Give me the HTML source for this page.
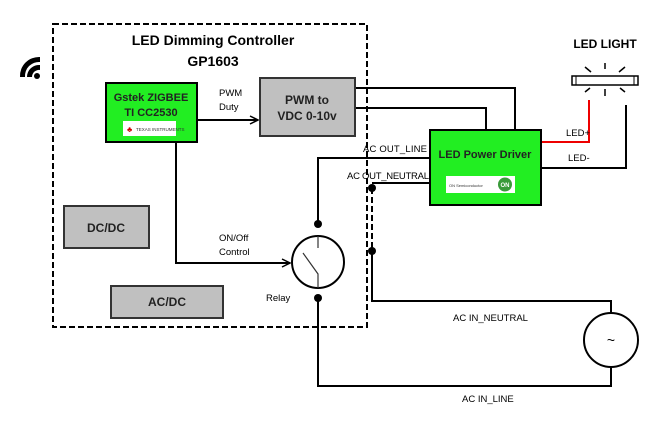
<!DOCTYPE html>
<html><head><meta charset="utf-8"><style>
html,body{margin:0;padding:0;background:#fff}
svg{display:block}
text{font-family:"Liberation Sans",sans-serif}
</style></head><body>
<svg width="659" height="438" viewBox="0 0 659 438" xmlns="http://www.w3.org/2000/svg">
<defs><marker id="a" markerWidth="10" markerHeight="10" refX="9" refY="5" orient="auto" markerUnits="userSpaceOnUse"><path d="M1,1 L9,5 L1,9" fill="none" stroke="#000" stroke-width="1.5"/></marker></defs>
<rect x="53" y="24" width="314" height="303" fill="none" stroke="#000" stroke-width="2" stroke-dasharray="6,3"/>
<text x="213" y="45" font-size="14" font-weight="bold" text-anchor="middle">LED Dimming Controller</text>
<text x="213" y="66" font-size="14" font-weight="bold" text-anchor="middle">GP1603</text>
<g fill="#000"><circle cx="37" cy="76" r="3"/>
<path d="M20,77 A19,19 0 0 1 40,57 L40,62 A14,14 0 0 0 25,77Z"/>
<path d="M27,77 A12,12 0 0 1 40,65 L40,70 A7,7 0 0 0 32,77Z"/></g>
<g fill="none" stroke="#000" stroke-width="2">
<path d="M355,88 H515 V130"/>
<path d="M355,108 H486 V130"/>
<path d="M176,142 V263 H290" marker-end="url(#a)"/>
<path d="M197,120 H258" marker-end="url(#a)"/>
<path d="M430,158 H318 V224"/>
<path d="M430,183 H372"/>
<path d="M372,188 V251" stroke-dasharray="6,3"/>
<path d="M372,251 V301 H611 V313"/>
<path d="M611,367 V386 H318 V298"/>
<path d="M541,168 H626 V105"/>
</g>
<path d="M541,142 H589 V100" fill="none" stroke="#e00" stroke-width="2"/>
<g fill="#000"><circle cx="318" cy="224" r="4"/><circle cx="318" cy="298" r="4"/><circle cx="372" cy="188" r="4"/><circle cx="372" cy="251" r="4"/></g>
<circle cx="318" cy="262" r="26" fill="#fff" stroke="#000" stroke-width="2"/>
<path d="M318,236 V248 M303,253 L318,274 V288" stroke="#333" stroke-width="1.2" fill="none"/>
<text x="266" y="301" font-size="9.5">Relay</text>
<text x="219" y="241" font-size="9.5">ON/Off</text>
<text x="219" y="255" font-size="9.5">Control</text>
<text x="219" y="96" font-size="9.5">PWM</text>
<text x="219" y="110" font-size="9.5">Duty</text>
<circle cx="611" cy="340" r="27" fill="#fff" stroke="#000" stroke-width="2"/>
<text x="611" y="345" font-size="14" text-anchor="middle">~</text>
<text x="453" y="321" font-size="9.5">AC IN_NEUTRAL</text>
<text x="462" y="402" font-size="9.5">AC IN_LINE</text>
<text x="363" y="152" font-size="9.5" textLength="64">AC OUT_LINE</text>
<text x="347" y="179" font-size="9.5" textLength="82">AC OUT_NEUTRAL</text>
<rect x="106" y="83" width="91" height="59" fill="#22ee22" stroke="#000" stroke-width="2"/>
<text x="151" y="101" font-size="11" font-weight="bold" text-anchor="middle" fill="#222">Gstek ZIGBEE</text>
<text x="151" y="116" font-size="11" font-weight="bold" text-anchor="middle" fill="#222">TI  CC2530</text>
<rect x="123" y="121" width="53" height="15" fill="#fff"/>
<text x="127" y="132" font-size="8" fill="#c00">♣</text>
<text x="136" y="131" font-size="4.5" fill="#333">TEXAS INSTRUMENTS</text>
<rect x="260" y="78" width="95" height="58" fill="#c0c0c0" stroke="#333" stroke-width="2"/>
<text x="307" y="104" font-size="12" font-weight="bold" text-anchor="middle" fill="#222">PWM to</text>
<text x="307" y="120" font-size="12" font-weight="bold" text-anchor="middle" fill="#222">VDC 0-10v</text>
<rect x="64" y="206" width="85" height="42" fill="#c0c0c0" stroke="#333" stroke-width="2"/>
<text x="106" y="232" font-size="12" font-weight="bold" text-anchor="middle" fill="#222">DC/DC</text>
<rect x="111" y="286" width="112" height="32" fill="#c0c0c0" stroke="#333" stroke-width="2"/>
<text x="167" y="306" font-size="12" font-weight="bold" text-anchor="middle" fill="#222">AC/DC</text>
<rect x="430" y="130" width="111" height="75" fill="#22ee22" stroke="#000" stroke-width="2"/>
<text x="485" y="158" font-size="11" font-weight="bold" text-anchor="middle" fill="#222">LED Power Driver</text>
<rect x="446" y="176" width="69" height="17" fill="#fff"/>
<text x="449" y="187" font-size="4" fill="#333">ON Semiconductor</text>
<circle cx="505" cy="184.5" r="7" fill="#3a9a3a"/>
<text x="505" y="187" font-size="6" fill="#fff" text-anchor="middle" font-weight="bold">ON</text>
<text x="566" y="136" font-size="9.5">LED+</text>
<text x="568" y="161" font-size="9.5">LED-</text>
<text x="605" y="48" font-size="12" font-weight="bold" text-anchor="middle">LED LIGHT</text>
<rect x="572" y="76" width="66" height="9" fill="#fff" stroke="#000" stroke-width="1.5"/>
<rect x="576" y="76" width="58" height="9" fill="none" stroke="#000" stroke-width="1"/>
<g stroke="#000" stroke-width="1.5"><path d="M605,63 V69 M605,89 V96 M585,67 L591,72 M625,67 L619,72 M585,92 L590,88 M625,92 L620,88"/></g>
</svg>
</body></html>
